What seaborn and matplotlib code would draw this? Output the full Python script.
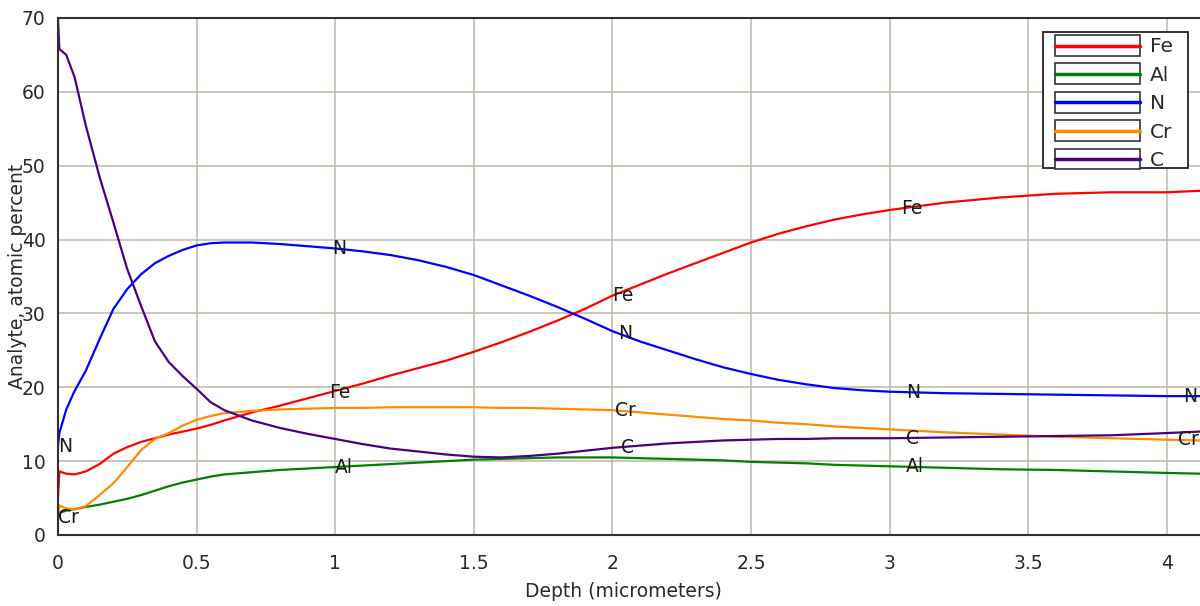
import numpy as np
import pandas as pd
import matplotlib
matplotlib.use("Agg")
import matplotlib.pyplot as plt
import matplotlib.patches as mpatches
from matplotlib.lines import Line2D
from matplotlib.legend_handler import HandlerBase
import seaborn as sns

# depth grid (micrometers) and atomic percent
depth = [0, 0.005, 0.03, 0.06, 0.1, 0.15, 0.2, 0.25, 0.3, 0.35, 0.4, 0.45, 0.5,
         0.55, 0.6, 0.7, 0.8, 0.9, 1.0, 1.1, 1.2, 1.3, 1.4, 1.5, 1.6, 1.7, 1.8,
         1.9, 2.0, 2.1, 2.2, 2.3, 2.4, 2.5, 2.6, 2.7, 2.8, 2.9, 3.0, 3.2, 3.4,
         3.6, 3.8, 4.0, 4.12]

fe = [5.0, 8.6, 8.3, 8.2, 8.6, 9.6, 11.0, 11.9, 12.6, 13.1, 13.6, 14.0, 14.4,
      14.9, 15.5, 16.6, 17.5, 18.5, 19.5, 20.5, 21.6, 22.6, 23.6, 24.8, 26.1,
      27.5, 29.0, 30.6, 32.4, 33.9, 35.4, 36.8, 38.2, 39.6, 40.8, 41.8, 42.7,
      43.4, 44.0, 45.0, 45.7, 46.2, 46.4, 46.4, 46.6]
al = [2.5, 3.0, 3.3, 3.5, 3.8, 4.1, 4.5, 4.9, 5.4, 6.0, 6.6, 7.1, 7.5,
      7.9, 8.2, 8.5, 8.8, 9.0, 9.2, 9.4, 9.6, 9.8, 10.0, 10.2, 10.3,
      10.4, 10.5, 10.5, 10.5, 10.4, 10.3, 10.2, 10.1, 9.9, 9.8, 9.7, 9.5,
      9.4, 9.3, 9.1, 8.9, 8.8, 8.6, 8.4, 8.3]
n = [12.0, 13.8, 17.0, 19.5, 22.2, 26.5, 30.6, 33.3, 35.3, 36.8, 37.8, 38.6, 39.2,
     39.5, 39.6, 39.6, 39.4, 39.1, 38.8, 38.4, 37.9, 37.2, 36.3, 35.2, 33.8,
     32.4, 30.9, 29.3, 27.6, 26.2, 25.0, 23.8, 22.7, 21.8, 21.0, 20.4, 19.9,
     19.6, 19.4, 19.2, 19.1, 19.0, 18.9, 18.8, 18.8]
cr = [2.3, 4.0, 3.6, 3.5, 3.9, 5.4, 7.0, 9.2, 11.5, 13.0, 13.8, 14.8, 15.6,
      16.1, 16.5, 16.8, 17.0, 17.1, 17.2, 17.2, 17.3, 17.3, 17.3, 17.3, 17.2,
      17.2, 17.1, 17.0, 16.9, 16.6, 16.3, 16.0, 15.7, 15.5, 15.2, 15.0, 14.7,
      14.5, 14.3, 13.9, 13.6, 13.3, 13.1, 12.9, 12.8]
c = [70.0, 65.8, 65.0, 62.0, 55.5, 48.5, 42.3, 36.0, 31.0, 26.2, 23.4, 21.5, 19.8,
     18.0, 16.9, 15.5, 14.5, 13.7, 13.0, 12.3, 11.7, 11.3, 10.9, 10.6, 10.5,
     10.7, 11.0, 11.4, 11.8, 12.1, 12.4, 12.6, 12.8, 12.9, 13.0, 13.0, 13.1,
     13.1, 13.1, 13.2, 13.3, 13.4, 13.5, 13.8, 14.0]

elements = ["Fe", "Al", "N", "Cr", "C"]
colors = {"Fe": "#ff0000", "Al": "#008000", "N": "#0000ff", "Cr": "#ff8c00", "C": "#4b0082"}

# where the in-plot element tags sit (depth)
label_spots = {
    "Fe": [0.98, 2.0, 3.04],
    "Al": [1.0, 3.06],
    "N": [0.0, 0.99, 2.02, 3.06, 4.06],
    "Cr": [0.0, 2.01, 4.04],
    "C": [2.03, 3.06],
}

series = {"Fe": fe, "Al": al, "N": n, "Cr": cr, "C": c}
df = pd.concat([pd.DataFrame({"depth": depth, "pct": v, "element": k})
                for k, v in series.items()], ignore_index=True)


class BoxedLineHandler(HandlerBase):
    # legend key: white box with the coloured line through the middle
    def create_artists(self, legend, orig_handle, xdescent, ydescent,
                       width, height, fontsize, trans):
        yc = -ydescent + height / 2
        bh = 15.1
        rect = mpatches.Rectangle((-xdescent, yc - bh / 2), width, bh,
                                  facecolor="white", edgecolor="#333333",
                                  linewidth=1.2, transform=trans)
        line = Line2D([-xdescent, -xdescent + width], [yc, yc],
                      color=orig_handle.get_color(), linewidth=2.5,
                      transform=trans)
        return [rect, line]


sns.set_theme(style="white")
plt.rcParams["font.family"] = ["DejaVu Sans"]
fs = 13.5
leg_fs = 14.5
txt_col = "#2a2a2a"

fig = plt.figure(figsize=(12, 6.06), dpi=100)
ax = fig.add_axes([0.0483, 0.1172, 0.9517, 0.8531])

sns.lineplot(data=df, x="depth", y="pct", hue="element", hue_order=elements,
             palette=colors, linewidth=1.6, estimator=None, sort=False,
             legend=False, ax=ax)

for el, spots in label_spots.items():
    for d in spots:
        yv = np.interp(d, depth, series[el])
        ax.text(d, yv, el, ha="left", va="center", fontsize=fs,
                color="#1a1a1a", zorder=5, clip_on=False)

ax.set_xlim(0, 4.12)
ax.set_ylim(0, 70)
ax.set_xticks(np.arange(0, 4.01, 0.5))
ax.set_xticklabels(["0", "0.5", "1", "1.5", "2", "2.5", "3", "3.5", "4"])
ax.set_yticks(range(0, 71, 10))
ax.grid(True, color="#bdb8a8", linewidth=1.1)
ax.tick_params(axis="both", length=0, labelsize=fs, labelcolor=txt_col)
ax.tick_params(axis="y", pad=9)
ax.tick_params(axis="x", pad=14)

for side in ["left", "bottom", "top"]:
    ax.spines[side].set_color("#303030")
    ax.spines[side].set_linewidth(1.5)
ax.spines["right"].set_visible(False)

ax.set_xlabel("Depth (micrometers)", fontsize=fs, color=txt_col)
ax.xaxis.set_label_coords(0.495, -0.09)
ax.set_ylabel("Analyte, atomic percent", fontsize=fs, color=txt_col)
ax.yaxis.set_label_coords(-0.027, 0.5)

# legend frame drawn separately so the padding matches the original
frame = mpatches.Rectangle((0.8625, 0.7099), 0.127, 0.2621, transform=ax.transAxes,
                           facecolor="white", edgecolor="#222222", linewidth=1.3,
                           zorder=6, clip_on=False)
ax.add_patch(frame)

handles = [Line2D([], [], color=colors[el]) for el in elements]
leg = ax.legend(handles, elements, loc="upper left", bbox_to_anchor=(0.873, 0.9642),
                fontsize=leg_fs, frameon=False, handlelength=61.2 / leg_fs,
                handleheight=1.0, labelspacing=0.42, handletextpad=7.2 / leg_fs,
                borderpad=0, borderaxespad=0,
                handler_map={Line2D: BoxedLineHandler()})
leg.set_zorder(7)
for t in leg.get_texts():
    t.set_color(txt_col)

fig.savefig("out.png", dpi=100)
